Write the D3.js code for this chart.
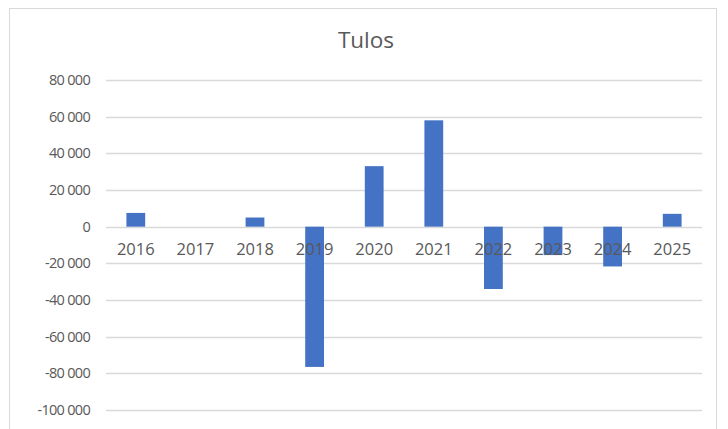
<!DOCTYPE html>
<html><head><meta charset="utf-8">
<script src="https://cdn.jsdelivr.net/npm/d3@7"></script>
<style>html,body{margin:0;padding:0;background:#fff;}</style>
</head><body>
<svg id="c" width="728" height="429"></svg>
<script>
const years = ["2016","2017","2018","2019","2020","2021","2022","2023","2024","2025"];
const tulos = [7500, 0, 5000, -76500, 33000, 58000, -34000, -15500, -21700, 7000];
const yTicks = [80000, 60000, 40000, 20000, 0, -20000, -40000, -60000, -80000, -100000];
const title = "Tulos";

const svg = d3.select("#c");
const plot = {left: 106, right: 702, top: 80, bottom: 410};

svg.append("rect").attr("x", 9.5).attr("y", 8.5).attr("width", 707).attr("height", 440)
  .attr("fill", "#fff").attr("stroke", "#d9d9d9").attr("stroke-width", 1);

const x = d3.scaleBand().domain(years).range([plot.left, plot.right]).paddingInner(0.685).paddingOuter(0.3425);
const y = d3.scaleLinear().domain([-100000, 80000]).range([plot.bottom, plot.top]);

const loc = d3.formatLocale({decimal: ",", thousands: " ", grouping: [3], currency: ["", " €"], minus: "-"});
const fmt = loc.format(",d");

const font = "'Open Sans', 'Liberation Sans', sans-serif";

// gridlines
svg.append("g").selectAll("line").data(yTicks).join("line")
  .attr("x1", plot.left).attr("x2", plot.right)
  .attr("y1", d => Math.round(y(d)) + 0.5).attr("y2", d => Math.round(y(d)) + 0.5)
  .attr("stroke", "#d9d9d9").attr("stroke-width", 1.3);

// y axis labels
const yAxis = d3.axisLeft(y).tickValues(yTicks).tickFormat(fmt).tickSize(0).tickPadding(0);
const ga = svg.append("g").attr("transform", `translate(${plot.left - 16},0)`).call(yAxis);
ga.select(".domain").remove();
ga.selectAll("text").attr("fill", "#595959").style("font-family", font).style("font-size", "14.5px").attr("letter-spacing", "-0.7");

// bars
svg.append("g").selectAll("rect").data(years).join("rect")
  .attr("x", d => x(d))
  .attr("width", x.bandwidth())
  .attr("y", (d, i) => Math.min(y(tulos[i]), y(0)))
  .attr("height", (d, i) => Math.abs(y(tulos[i]) - y(0)))
  .attr("fill", "#4472c4");

// category labels
const xAxis = d3.axisBottom(x).tickSize(0).tickPadding(0);
const gx = svg.append("g").attr("transform", `translate(0,${y(0)})`).call(xAxis);
gx.select(".domain").remove();
gx.selectAll("text").attr("fill", "#595959").attr("y", 28).attr("dy", 0).style("font-family", font).style("font-size", "16.5px");

// title
svg.append("text").attr("x", 366).attr("y", 48).attr("text-anchor", "middle")
  .attr("fill", "#595959").style("font-family", font).style("font-size", "22.5px").text(title);
</script>
</body></html>
